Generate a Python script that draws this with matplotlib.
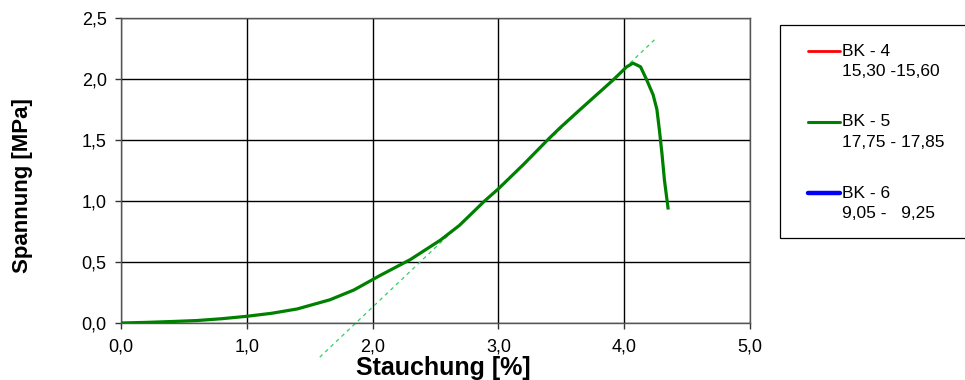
import matplotlib
matplotlib.use("Agg")
import matplotlib.pyplot as plt
from matplotlib.lines import Line2D
from matplotlib.patches import Rectangle
from matplotlib.ticker import FuncFormatter

plt.rcParams['font.family'] = ['Liberation Sans', 'DejaVu Sans']

# Data
strain_bk5 = [0.0, 0.2, 0.4, 0.6, 0.8, 1.0, 1.2, 1.4, 1.66, 1.85, 2.06, 2.30, 2.54,
              2.69, 2.89, 3.0, 3.2, 3.40, 3.49, 3.65, 3.78, 3.91, 4.02, 4.07, 4.13,
              4.18, 4.23, 4.26, 4.28, 4.30, 4.32, 4.35]
stress_bk5 = [0.0, 0.005, 0.012, 0.02, 0.035, 0.055, 0.08, 0.115, 0.19, 0.27, 0.39,
              0.52, 0.68, 0.80, 1.00, 1.10, 1.30, 1.51, 1.60, 1.75, 1.87, 1.99, 2.10,
              2.13, 2.10, 1.99, 1.87, 1.75, 1.58, 1.39, 1.17, 0.93]
tangent_x = [1.58, 4.26]
tangent_y = [-0.28, 2.34]

legend_names = ["BK - 4", "BK - 5", "BK - 6"]
legend_ranges = ["15,30 -15,60", "17,75 - 17,85", "9,05 -   9,25"]
legend_colors = ["#ff0000", "#008000", "#0000ff"]
legend_widths = [2.0, 2.2, 3.2]

xticks = [0, 1, 2, 3, 4, 5]
yticks = [0, 0.5, 1.0, 1.5, 2.0, 2.5]

fig = plt.figure(figsize=(9.65, 3.8), dpi=100)
ax = fig.add_axes([121/965, 1-323/380, 629/965, 305/380])

ax.plot(strain_bk5, stress_bk5, color="#008000", lw=2.3, zorder=3,
        solid_capstyle='butt', solid_joinstyle='round')
ax.plot(tangent_x, tangent_y, color="#33cc66", lw=0.9, ls=(0, (3, 3)), clip_on=False, zorder=2)

ax.set_xlim(0, 5)
ax.set_ylim(0, 2.5)
ax.set_xticks(xticks)
ax.set_yticks(yticks)
fmt = FuncFormatter(lambda v, p: f"{v:.1f}".replace(".", ","))
ax.xaxis.set_major_formatter(fmt)
ax.yaxis.set_major_formatter(fmt)
ax.tick_params(direction='out', length=4.3, width=1, color="#333333", labelsize=13)
ax.tick_params(axis='x', pad=6.5)
ax.tick_params(axis='y', pad=6.0)
ax.grid(True, color="black", lw=1.0)
for s in ax.spines.values():
    s.set_color("#555555")
    s.set_linewidth(1.0)

ax.set_xlabel("Stauchung [%]", fontsize=18, fontweight='bold', va='baseline', ha='center')
ax.xaxis.set_label_coords(0.512, -(375 - 323) / 305)
ax.set_ylabel("Spannung [MPa]", fontsize=16, fontweight='bold', va='center', ha='center')
ax.yaxis.set_label_coords(-0.156, 0.451)

# Legend (manual, figure coordinates)
W, H = 965, 380
fig.add_artist(Rectangle((780/W, 1-238/H), 200/W, 213/H, transform=fig.transFigure,
                         facecolor='white', edgecolor='black', lw=0.9))
group_y = [51, 122, 193]
for name, rng, col, lw, gy in zip(legend_names, legend_ranges, legend_colors, legend_widths, group_y):
    fig.add_artist(Line2D([808/W, 840/W], [1-gy/H, 1-gy/H], transform=fig.transFigure,
                          color=col, lw=lw, solid_capstyle='round'))
    fig.text(842/W, 1-gy/H, name, fontsize=12.5, va='center', ha='left')
    fig.text(842/W, 1-(gy+20)/H, rng, fontsize=12.5, va='center', ha='left')

fig.savefig("out.png", dpi=100)
